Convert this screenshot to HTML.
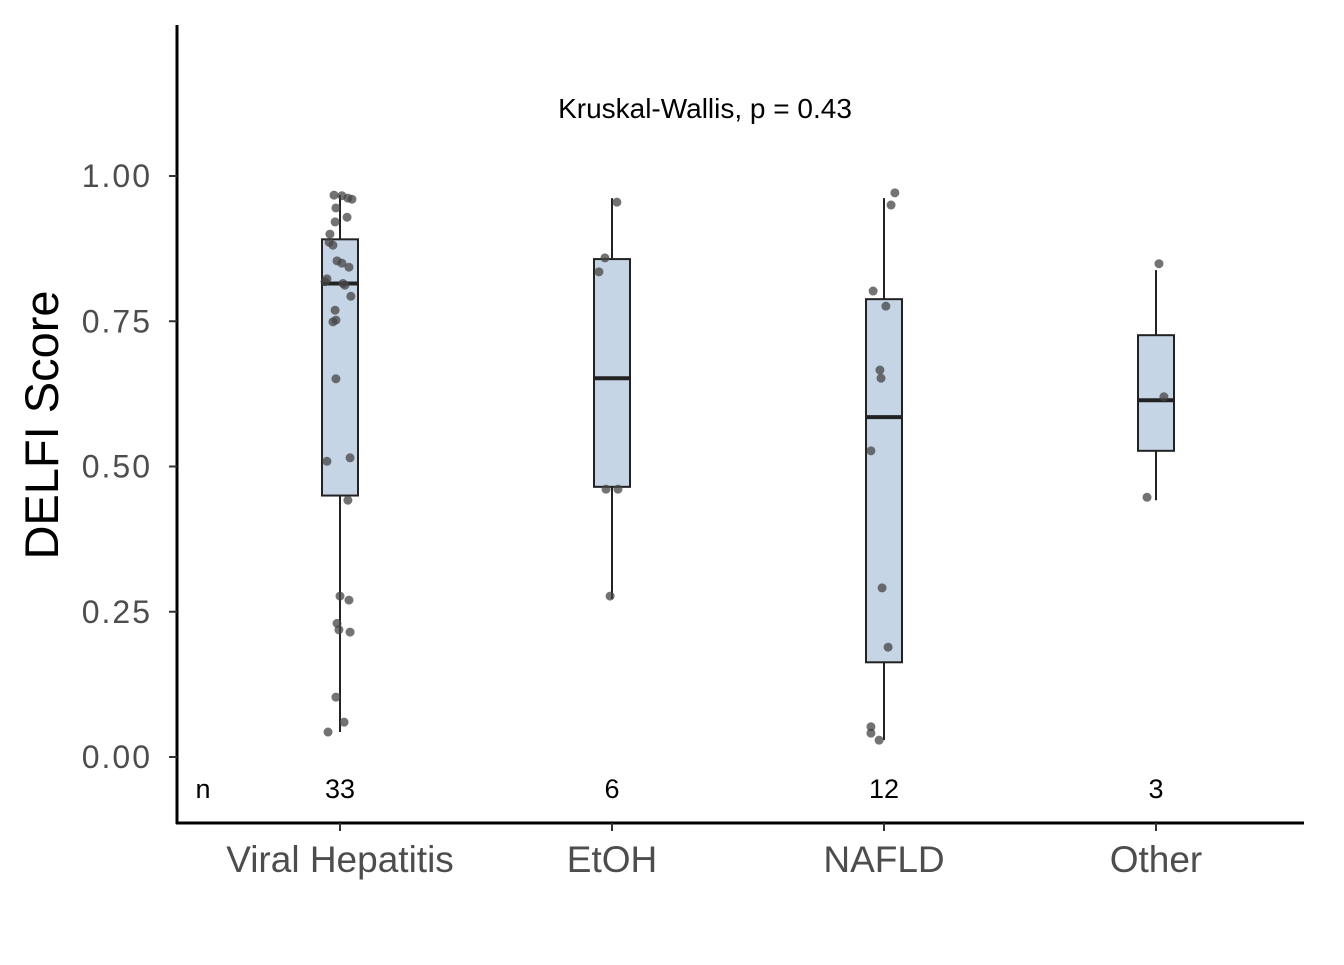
<!DOCTYPE html>
<html><head><meta charset="utf-8"><style>
body{margin:0;background:#fff}
svg text{font-family:"Liberation Sans",Arial,sans-serif}
</style></head><body>
<svg width="1344" height="960" xmlns="http://www.w3.org/2000/svg">
<g id="plot"></g>
</svg>
<script>
const categories=["Viral Hepatitis","EtOH","NAFLD","Other"];
const counts=[33,6,12,3];
const q1=[0.450,0.465,0.163,0.527];
const medians=[0.815,0.652,0.585,0.614];
const q3=[0.891,0.857,0.788,0.726];
const whiskLo=[0.043,0.272,0.029,0.442];
const whiskHi=[0.967,0.962,0.962,0.838];
const yTicks=[0,0.25,0.5,0.75,1.0];
const yTickLabels=["0.00","0.25","0.50","0.75","1.00"];
// points: category index, jitter (category units), value
const ptCat=[0,0,0,0,0,0,0,0,0,0,0,0,0,0,0,0,0,0,0,0,0,0,0,0,0,0,0,0,0,0,0,0,0,1,1,1,1,1,1,2,2,2,2,2,2,2,2,2,2,2,2,3,3,3];
const ptJit=[-0.022,0.007,0.029,0.044,-0.015,0.026,-0.018,-0.037,-0.04,-0.026,-0.011,0.007,0.033,-0.048,-0.055,0.011,0.018,0.04,-0.018,-0.026,-0.015,-0.015,-0.048,0.037,0.029,0,0.033,-0.011,-0.004,0.037,-0.015,0.015,-0.044,0.018,-0.026,-0.048,-0.022,0.022,-0.007,0.04,0.026,-0.04,0.007,-0.015,-0.011,-0.048,-0.007,0.015,-0.048,-0.048,-0.018,0.011,0.029,-0.033];
const ptVal=[0.967,0.966,0.962,0.960,0.945,0.929,0.921,0.900,0.886,0.881,0.854,0.850,0.843,0.823,0.818,0.815,0.812,0.793,0.769,0.749,0.752,0.651,0.509,0.515,0.442,0.277,0.270,0.230,0.219,0.215,0.103,0.060,0.043,0.955,0.859,0.835,0.461,0.461,0.277,0.971,0.950,0.802,0.776,0.666,0.652,0.527,0.291,0.189,0.052,0.041,0.029,0.849,0.620,0.447];

const NS="http://www.w3.org/2000/svg";
const g=document.getElementById('plot');
const yS=v=>757-v*581;
const xS=i=>340+i*272;
function mk(t,a){const e=document.createElementNS(NS,t);for(const k in a)e.setAttribute(k,a[k]);g.appendChild(e);return e;}
let e=mk('line',{x1:177,y1:25,x2:177,y2:824,stroke:'#000','stroke-width':3});


e=mk('line',{x1:176,y1:823,x2:1304,y2:823,stroke:'#000','stroke-width':3});


yTicks.forEach((v,i)=>{
 let t=mk('line',{x1:169,y1:yS(v),x2:177,y2:yS(v),stroke:'#333','stroke-width':2});
 
 
 let l=mk('text',{x:152,y:yS(v)+11,'text-anchor':'end','font-size':32,'letter-spacing':2,fill:'#4d4d4d'});
 l.textContent=yTickLabels[i];
 
 
});
categories.forEach((c,i)=>{
 const x=xS(i);
 let t=mk('line',{x1:x,y1:823,x2:x,y2:831,stroke:'#333','stroke-width':2});
 
 
 let l=mk('text',{x:x,y:872,'text-anchor':'middle','font-size':37,fill:'#4d4d4d'});
 l.textContent=c;
 
 
 let w=mk('line',{x1:x,y1:yS(whiskLo[i]),x2:x,y2:yS(whiskHi[i]),stroke:'#222','stroke-width':2});
 
 
 let b=mk('rect',{x:x-18,y:yS(q3[i]),width:36,height:yS(q1[i])-yS(q3[i]),fill:'#c6d5e5',stroke:'#222','stroke-width':2});
 
 
 let m=mk('line',{x1:x-18,y1:yS(medians[i]),x2:x+18,y2:yS(medians[i]),stroke:'#222','stroke-width':4});
 
 
 let n=mk('text',{x:x,y:798,'text-anchor':'middle','font-size':27,fill:'#000'});
 n.textContent=counts[i];
 
 
});
ptVal.forEach((v,i)=>{
 let p=mk('circle',{cx:xS(ptCat[i]+ptJit[i]),cy:yS(v),r:4.5,fill:'#444','fill-opacity':0.75});
 
 
});
e=mk('text',{x:203,y:798,'text-anchor':'middle','font-size':27,fill:'#000'});e.textContent='n';


e=mk('text',{x:705,y:118,'text-anchor':'middle','font-size':28,fill:'#000'});e.textContent='Kruskal-Wallis, p = 0.43';


e=mk('text',{x:0,y:0,'text-anchor':'middle','font-size':47,fill:'#000',transform:'translate(58,425) rotate(-90)'});e.textContent='DELFI Score';


</script>
</body></html>
